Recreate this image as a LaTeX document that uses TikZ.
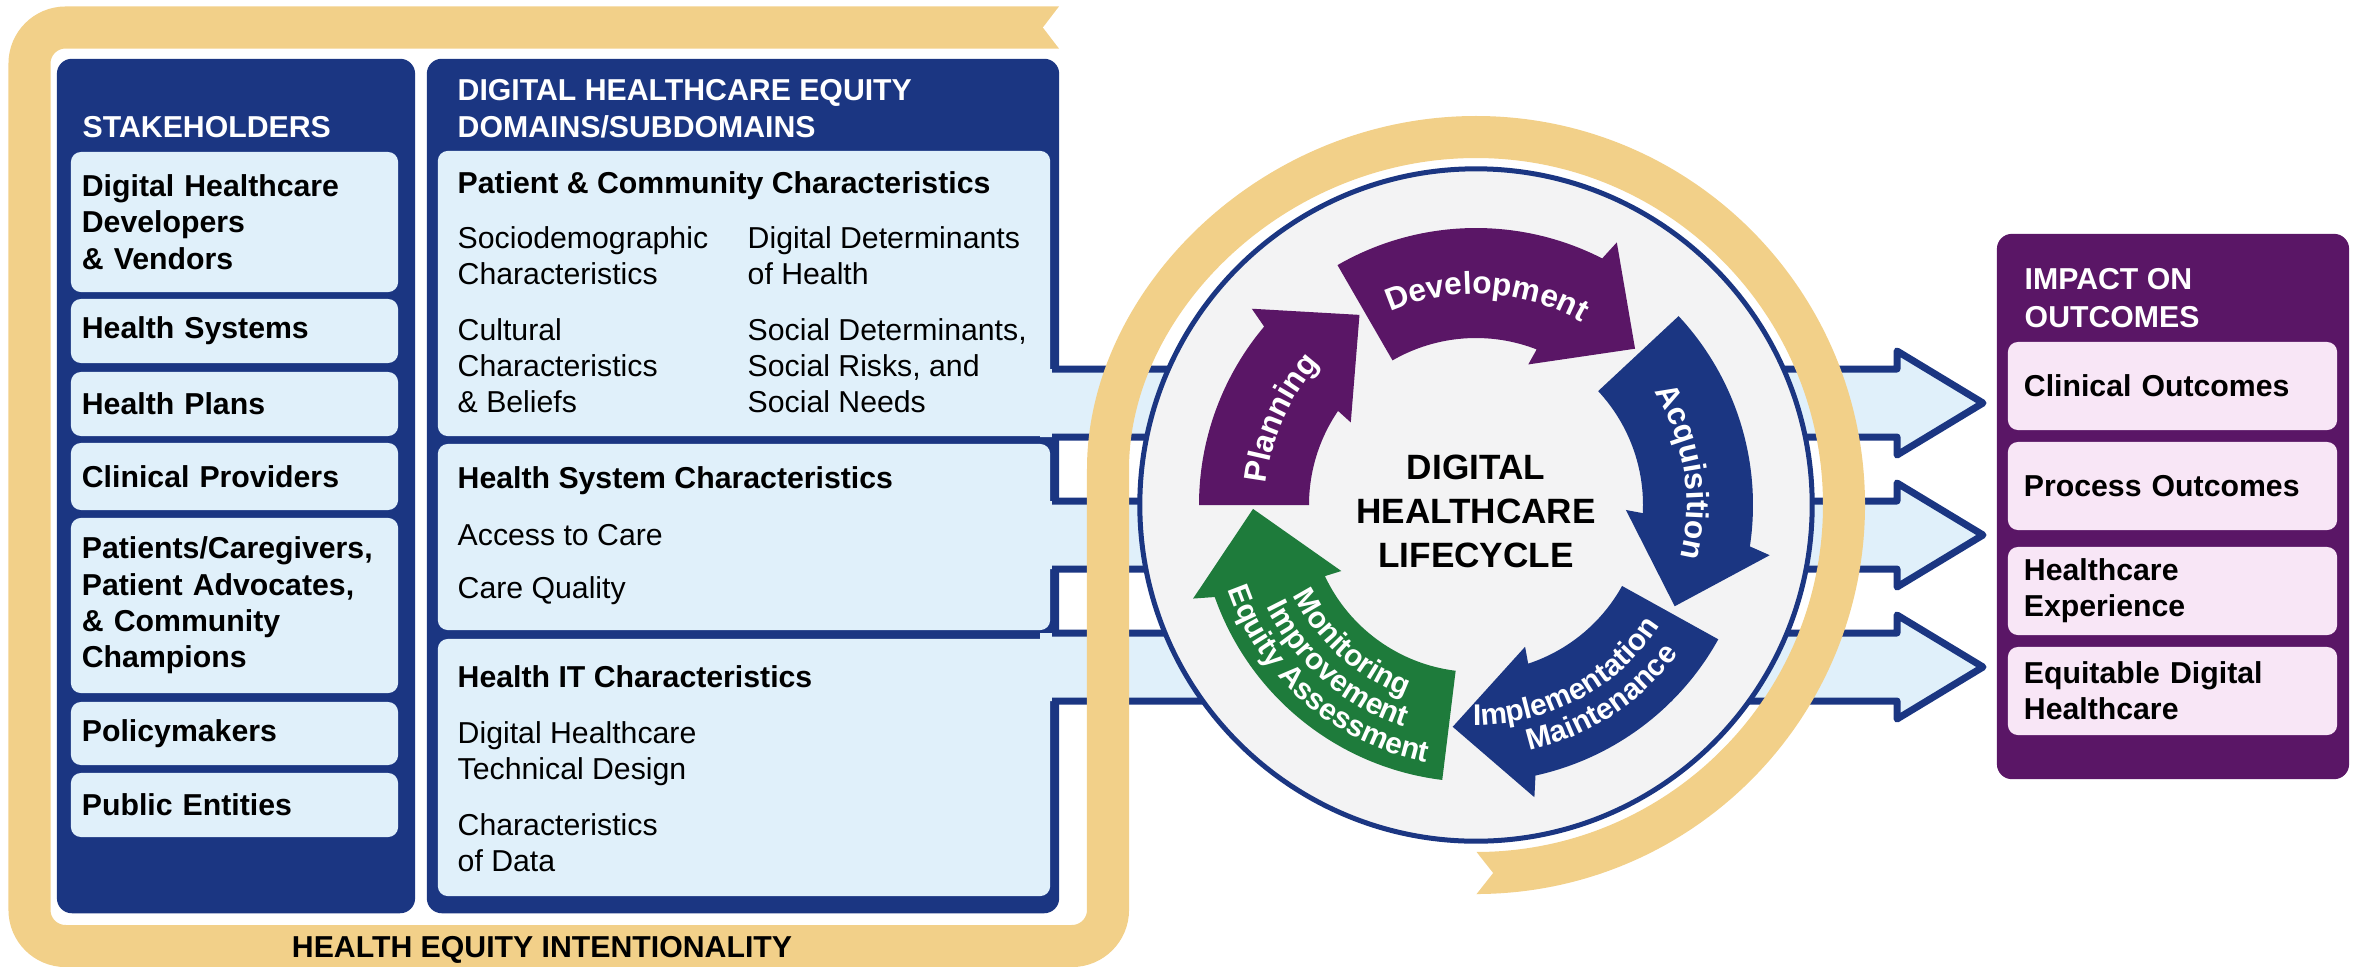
\documentclass[tikz,border=0pt]{standalone}
\usepackage{fontspec}
\setmainfont{Liberation Sans}
\usetikzlibrary{decorations.text}
\definecolor{navy}{HTML}{1B3682}
\definecolor{plum}{HTML}{5A1666}
\definecolor{leaf}{HTML}{1E7B3B}
\definecolor{skyfill}{HTML}{E0F0FA}
\definecolor{pinkfill}{HTML}{F8E6F6}
\definecolor{ribbon}{HTML}{F2D089}
\definecolor{disc}{HTML}{F3F3F4}
\newcommand\lblfont{\fontsize{8.6}{10.3}\selectfont}
\newcommand\arcfont{\fontsize{9}{10}\selectfont\bfseries}
\newcommand\arcsmall{\fontsize{8.5}{10}\selectfont\bfseries}
\begin{document}
\begin{tikzpicture}[x=0.01cm, y=-0.01cm,
  panel/.style={rounded corners=0.15cm, inner sep=0pt},
  sbox/.style={fill=skyfill, rounded corners=0.1cm, text width=3.05cm, inner xsep=0.11cm, inner ysep=0pt, minimum width=3.27cm, align=left, font=\lblfont\bfseries},
  obox/.style={fill=pinkfill, rounded corners=0.1cm, text width=2.97cm, inner xsep=0.16cm, inner ysep=0pt, minimum width=3.29cm, align=left, font=\lblfont\bfseries},
  dbox/.style={fill=skyfill, rounded corners=0.1cm, inner sep=0pt, minimum width=6.12cm},
  head/.style={anchor=base west, inner sep=0pt, text=white, font=\lblfont\bfseries},
  dtitle/.style={anchor=base west, inner sep=0pt, font=\lblfont\bfseries},
  dtext/.style={anchor=base west, inner sep=0pt, font=\lblfont},
  arctext/.style={decorate, decoration={text along path, text align=center, text color=white, text={|\arcfont|#1}}},
  arcsmall/.style={decorate, decoration={text along path, text align=center, text color=white, text={|\arcsmall|#1}}}
]
\useasboundingbox (0,0) rectangle (2372,966);
\node[panel, fill=navy, minimum width=3.58cm, minimum height=8.54cm] (stk) at (236,486) {};
\node[panel, fill=navy, minimum width=6.32cm, minimum height=8.54cm] (dom) at (743,486) {};
\node[panel, fill=plum, minimum width=3.52cm, minimum height=5.45cm] (imp) at (2173,506.5) {};
\node[head] (stkh) at (82,137) {STAKEHOLDERS};
\node[head] (domh1) at (457,100) {DIGITAL HEALTHCARE EQUITY};
\node[head] (domh2) at (457,137) {DOMAINS/SUBDOMAINS};
\node[head] (imph1) at (2024,289) {IMPACT ON};
\node[head] (imph2) at (2024,327) {OUTCOMES};
\node[sbox, minimum height=1.40cm] (sh1) at (234.5,222) {Digital Healthcare\\Developers\\\& Vendors};
\node[sbox, minimum height=0.64cm] (sh2) at (234.5,331) {Health Systems};
\node[sbox, minimum height=0.64cm] (sh3) at (234.5,404) {Health Plans};
\node[sbox, minimum height=0.67cm] (sh4) at (234.5,476.5) {Clinical Providers};
\node[sbox, minimum height=1.75cm] (sh5) at (234.5,605.5) {Patients/Caregivers,\\Patient Advocates,\\\& Community\\Champions};
\node[sbox, minimum height=0.63cm] (sh6) at (234.5,733.5) {Policymakers};
\node[sbox, minimum height=0.64cm] (sh7) at (234.5,805) {Public Entities};
\node[dbox, minimum height=2.85cm] (dA) at (744,293.5) {};
\node[dbox, minimum height=1.86cm] (dB) at (744,537) {};
\node[dbox, minimum height=2.57cm] (dC) at (744,767.5) {};
% subdomains
\node[dtitle] (dA0) at (457,193) {Patient \& Community Characteristics};
\node[dtext] (dA1) at (457,248) {Sociodemographic};
\node[dtext] (dA2) at (457,284) {Characteristics};
\node[dtext] (dA3) at (457,340) {Cultural};
\node[dtext] (dA4) at (457,376) {Characteristics};
\node[dtext] (dA5) at (457,412) {\& Beliefs};
\node[dtext] (dA6) at (747,248) {Digital Determinants};
\node[dtext] (dA7) at (747,284) {of Health};
\node[dtext] (dA8) at (747,340) {Social Determinants,};
\node[dtext] (dA9) at (747,376) {Social Risks, and};
\node[dtext] (dA10) at (747,412) {Social Needs};
\node[dtitle] (dB0) at (457,488) {Health System Characteristics};
\node[dtext] (dB1) at (457,545) {Access to Care};
\node[dtext] (dB2) at (457,598) {Care Quality};
\node[dtitle] (dC0) at (457,687) {Health IT Characteristics};
\node[dtext] (dC1) at (457,743) {Digital Healthcare};
\node[dtext] (dC2) at (457,779) {Technical Design};
\node[dtext] (dC3) at (457,835) {Characteristics};
\node[dtext] (dC4) at (457,871) {of Data};
\node[obox, minimum height=0.88cm] (oc1) at (2172.5,386) {Clinical Outcomes};
\node[obox, minimum height=0.88cm] (oc2) at (2172.5,486) {Process Outcomes};
\node[obox, minimum height=0.88cm] (oc3) at (2172.5,591) {Healthcare\\Experience};
\node[obox, minimum height=0.88cm] (oc4) at (2172.5,691) {Equitable Digital\\Healthcare};
% flow arrows
\foreach \y in {403,535,667} {
  \fill[skyfill] (1040,\y-34) -- (1897,\y-34) -- (1897,\y-52) -- (1983,\y) -- (1897,\y+52) -- (1897,\y+34) -- (1040,\y+34) -- cycle;
  \draw[navy, line width=0.07cm, line join=round] (1052,\y-34) -- (1897,\y-34) -- (1897,\y-52) -- (1983,\y) -- (1897,\y+52) -- (1897,\y+34) -- (1052,\y+34);
}
\node[circle, draw=navy, fill=disc, line width=0.05cm, minimum size=6.72cm, inner sep=0pt] (cyc) at (1476,505) {};
% ribbon
\draw[ribbon, line width=0.42cm, rounded corners=0.36cm] (1059,27.5) -- (29.5,27.5) -- (29.5,946) -- (1108,946) -- (1108,505) arc[start angle=-180, end angle=90, radius=368];
\fill[white] (1061,4) -- (1043,27.5) -- (1061,51) -- cycle;
\fill[white] (1474,849) -- (1493,873) -- (1474,897) -- cycle;
\node[anchor=base, inner sep=0pt, font=\lblfont\bfseries] (hei) at (542,957) {HEALTH EQUITY INTENTIONALITY};
% lifecycle
\begin{scope}[shift={(1476,505)}]
\foreach \tail/\head/\col in {-180/-141.5/plum, -120/-64.5/plum, -43/7/navy, 29/76/navy, 97/159/leaf}
  \fill[\col] (\tail:167) -- (\tail:277) arc[start angle=\tail, end angle=\head+1.6, radius=277] -- ({\head+2.7}:298) -- ({\head+20}:223) -- ({\head-5.1}:150) -- ({\head-4.2}:167) arc[start angle=\head-4.2, end angle=\tail, radius=167] -- cycle;
\path[arctext=Planning] (-196:211) arc[start angle=-196, end angle=-116, radius=211];
\path[arctext=Development] (-127:211) arc[start angle=-127, end angle=-47, radius=211];
\path[arctext=Acquisition] (-49:211) arc[start angle=-49, end angle=31, radius=211];
\path[arcsmall=Implementation] (102:220) arc[start angle=102, end angle=22, radius=220];
\path[arcsmall=Maintenance] (97:251) arc[start angle=97, end angle=17, radius=251];
\path[arcsmall=Monitoring] (172:204) arc[start angle=172, end angle=92, radius=204];
\path[arcsmall=Improvement] (171:233) arc[start angle=171, end angle=91, radius=233];
\path[arcsmall={Equity Assessment}] (171:262) arc[start angle=171, end angle=91, radius=262];
\end{scope}
\node[align=center, inner sep=0pt, font=\fontsize{10}{12.5}\selectfont\bfseries] (lc) at (1476,511) {DIGITAL\\HEALTHCARE\\LIFECYCLE};
\end{tikzpicture}
\end{document}
